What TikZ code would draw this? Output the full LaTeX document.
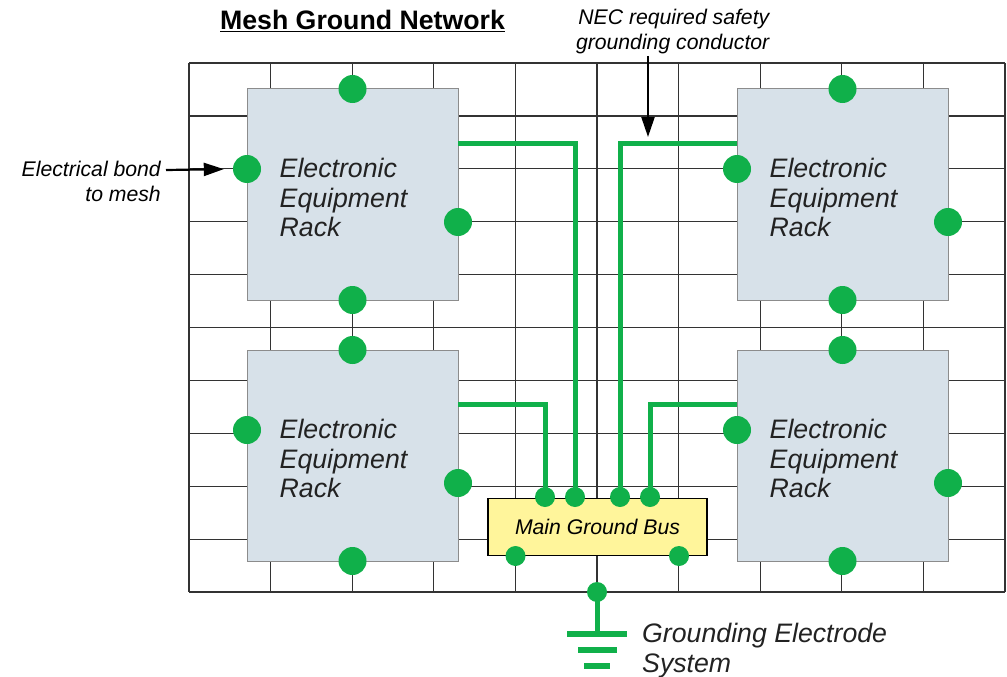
\documentclass[tikz,border=0pt]{standalone}
\usepackage{fontspec}
\setmainfont{Liberation Sans}
\usetikzlibrary{arrows.meta, positioning, calc}
\definecolor{bondgreen}{HTML}{10B04A}
\definecolor{rackfill}{HTML}{D7E1E9}
\definecolor{busfill}{HTML}{FFF59B}
\definecolor{inkgray}{HTML}{222222}

\begin{document}
\begin{tikzpicture}[x=1pt, y=-1pt,
        meshline/.style={draw=black!80, line width=1.2pt},
        rack/.style={rectangle, draw=black!45, line width=1pt, fill=rackfill, minimum width=211pt, minimum height=211pt, inner sep=0pt},
        racktext/.style={anchor=west, align=left, text=inkgray, font=\fontsize{26.7}{29.5}\selectfont\itshape, inner sep=0pt},
        bigbond/.style={circle, fill=bondgreen, minimum size=28pt, inner sep=0pt},
        smallbond/.style={circle, fill=bondgreen, minimum size=20pt, inner sep=0pt},
        wire/.style={draw=bondgreen, line width=5pt, line join=miter},
        groundbar/.style={rectangle, fill=bondgreen, minimum height=5.5pt, inner sep=0pt},
        callout/.style={align=right, text=black, font=\fontsize{21.2}{24.5}\selectfont\itshape, inner sep=0pt},
        pointer/.style={draw=black, line width=2.2pt, -{Triangle[length=20pt, width=13pt]}}]
        \useasboundingbox (0,0) rectangle (1007,677);

        % mesh
        \foreach \gridx in {189,270.6,352.2,433.8,515.4,597,678.6,760.2,841.8,923.4,1005}
            \draw[meshline] (\gridx,63) -- (\gridx,592);
        \foreach \gridy in {63,115.9,168.8,221.7,274.6,327.5,380.4,433.3,486.2,539.1,592}
            \draw[meshline] (189,\gridy) -- (1005,\gridy);

        % racks
        \node[rack] (rackNW) at (352.5,194.5) {};
        \node[rack] (rackNE) at (842.5,194.5) {};
        \node[rack] (rackSW) at (352.5,455.5) {};
        \node[rack] (rackSE) at (842.5,455.5) {};
        \node[racktext] (labelNW) at ($(rackNW.west)+(33,3)$) {Electronic\\Equipment\\Rack};
        \node[racktext] (labelNE) at ($(rackNE.west)+(33,3)$) {Electronic\\Equipment\\Rack};
        \node[racktext] (labelSW) at ($(rackSW.west)+(33,3)$) {Electronic\\Equipment\\Rack};
        \node[racktext] (labelSE) at ($(rackSE.west)+(33,3)$) {Electronic\\Equipment\\Rack};

        % main bus
        \node[rectangle, draw=black, line width=1.3pt, fill=busfill, minimum width=219pt, minimum height=57pt, inner sep=0pt,
            font=\fontsize{21.2}{24}\selectfont\itshape] (bus) at (597.5,527) {Main Ground Bus};

        \coordinate (startNW) at (458,143);
        \coordinate (startNE) at (737,143);
        \coordinate (startSW) at (458,404);
        \coordinate (startSE) at (737,404);

        \node[smallbond] (busA) at (545,497) {};
        \node[smallbond] (busB) at (575,497) {};
        \node[smallbond] (busC) at (620,497) {};
        \node[smallbond] (busD) at (650,497) {};
        \node[smallbond] (busE) at (515.5,556) {};
        \node[smallbond] (busF) at (679,556) {};
        \node[smallbond] (earth) at (597,592) {};

        \draw[wire] (startNW) -| (busB.center);
        \draw[wire] (startNE) -| (busC.center);
        \draw[wire] (startSW) -| (busA.center);
        \draw[wire] (startSE) -| (busD.center);

        % bonds on the racks
        \node[bigbond] (nwTop) at (352.5,89) {};
        \node[bigbond] (nwLeft) at (247,169) {};
        \node[bigbond] (nwRight) at (458,222) {};
        \node[bigbond] (nwBottom) at (352.5,300) {};
        \node[bigbond] (neTop) at (842.5,89) {};
        \node[bigbond] (neLeft) at (737,169) {};
        \node[bigbond] (neRight) at (948,222) {};
        \node[bigbond] (neBottom) at (842.5,300) {};
        \node[bigbond] (swTop) at (352.5,350) {};
        \node[bigbond] (swLeft) at (247,430) {};
        \node[bigbond] (swRight) at (458,483) {};
        \node[bigbond] (swBottom) at (352.5,561) {};
        \node[bigbond] (seTop) at (842.5,350) {};
        \node[bigbond] (seLeft) at (737,430) {};
        \node[bigbond] (seRight) at (948,483) {};
        \node[bigbond] (seBottom) at (842.5,561) {};

        % ground symbol
        \node[groundbar, minimum width=60pt] (barA) at (597,634) {};
        \node[groundbar, minimum width=39pt] (barB) at (597,650) {};
        \node[groundbar, minimum width=26pt] (barC) at (597,666) {};
        \draw[wire] (earth.center) -- (barA.center);
        \node[racktext, anchor=north west, text=inkgray, font=\fontsize{26.7}{29.5}\selectfont\itshape] (electrode) at (642,623) {Grounding Electrode\\System};

        % texts
        \node[anchor=base, inner sep=0pt, font=\fontsize{26.7}{30}\selectfont\bfseries] (title) at (362.5,30) {\underline{Mesh Ground Network}};
        \node[callout, anchor=north east] (bondnote) at (161,161) {Electrical bond\\to mesh};
        \node[callout, align=right, anchor=north east] (necnote) at (769.5,9) {NEC required safety\\grounding conductor};
        \coordinate (necstart) at (648,56);
        \coordinate (nectip) at (648,137);
        \coordinate (bondstart) at (166,170);
        \draw[pointer] (necstart) -- (nectip);
        \draw[pointer, shorten >=9pt] (bondstart) -- (nwLeft.west);
    \end{tikzpicture}
\end{document}
